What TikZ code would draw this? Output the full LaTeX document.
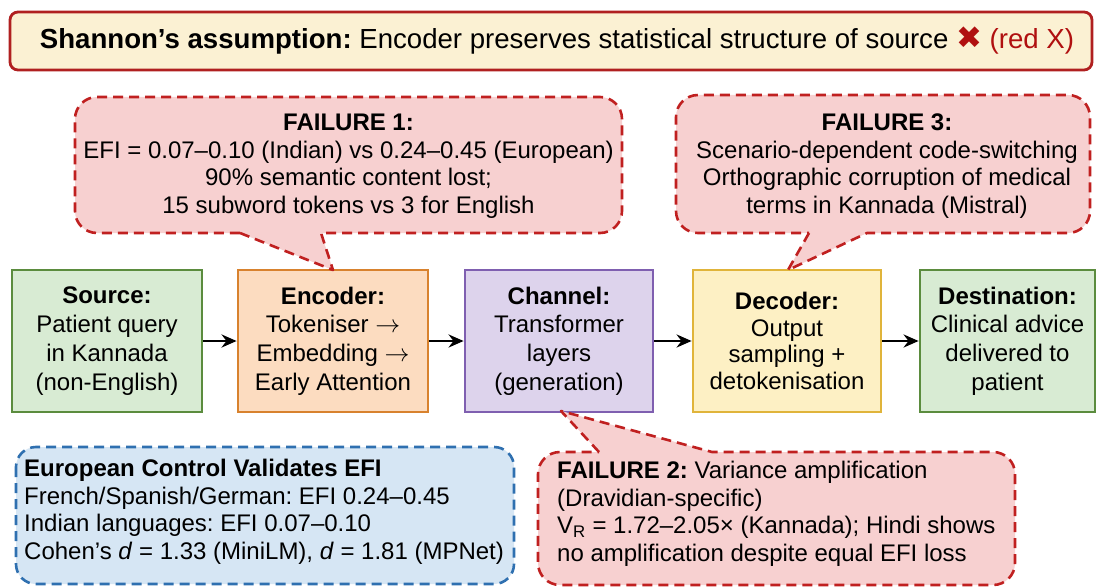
\documentclass[tikz,border=0pt]{standalone}
\usepackage{fontspec}
\setmainfont{Liberation Sans}
\newfontfamily\symfont{DejaVu Sans}
\usetikzlibrary{arrows.meta}
\frenchspacing
\definecolor{bannerfill}{HTML}{FBF1D3}
\definecolor{bannerline}{HTML}{B02020}
\definecolor{calfill}{HTML}{F7D0D0}
\definecolor{calline}{HTML}{C02020}
\definecolor{eufill}{HTML}{D6E6F4}
\definecolor{euline}{HTML}{2F70B0}
\definecolor{grfill}{HTML}{D8EBD3}
\definecolor{grline}{HTML}{5B8C3E}
\definecolor{orfill}{HTML}{FCDCC0}
\definecolor{orline}{HTML}{D8822E}
\definecolor{pufill}{HTML}{DDD3EC}
\definecolor{puline}{HTML}{7F5FB0}
\definecolor{yefill}{HTML}{FDF0C4}
\definecolor{yeline}{HTML}{E0B43A}
\definecolor{xred}{HTML}{B01010}
\newcommand{\rarr}{\ensuremath{\rightarrow}}
\tikzset{
  txt/.style={font=\fontsize{24}{27.5}\selectfont, inner sep=0pt},
  stagebox/.style={draw, line width=2.8pt, minimum width=190pt, minimum height=142pt, inner sep=2pt, align=center, font=\fontsize{24}{28.8}\selectfont},
  callout/.style={draw=calline, fill=calfill, line width=2.6pt, dash pattern=on 10pt off 6pt, line join=round},
  flow/.style={-{Stealth[length=15pt,width=13pt]}, line width=2.6pt},
}
\begin{document}
\begin{tikzpicture}[x=1pt,y=-1pt]
\useasboundingbox (0,0) rectangle (1099,588);
\fill[white] (0,0) rectangle (1099,588);
% banner
\draw[fill=bannerfill, draw=bannerline, line width=2.8pt, rounded corners=8pt] (10,12) rectangle (1092,70);
\node[txt, font=\fontsize{27.6}{30}\selectfont] (banner) at (557,41) {\textbf{Shannon’s assumption:} Encoder preserves statistical structure of source {\symfont\color{xred}\bfseries\fontsize{31}{31}\selectfont ✖} \textcolor{xred}{(red X)}};
% stage boxes
\node[stagebox, draw=grline, fill=grfill] (src) at (107,341) {\textbf{Source:}\\Patient query\\in Kannada\\(non-English)};
\node[stagebox, draw=orline, fill=orfill] (enc) at (333,341) {\textbf{Encoder:}\\Tokeniser \rarr\\Embedding \rarr\\Early Attention};
\node[stagebox, draw=puline, fill=pufill, minimum width=188pt] (chn) at (559,341) {\textbf{Channel:}\\Transformer\\layers\\(generation)};
\node[stagebox, draw=yeline, fill=yefill, minimum width=188pt, font=\fontsize{24}{26.5}\selectfont] (dec) at (787,341) {\textbf{Decoder:}\\Output\\sampling +\\detokenisation};
\node[stagebox, draw=grline, fill=grfill, minimum width=175pt] (dst) at (1007.5,341) {\textbf{Destination:}\\Clinical advice\\delivered to\\patient};
\draw[flow] (src) -- (enc);
\draw[flow] (enc) -- (chn);
\draw[flow] (chn) -- (dec);
\draw[flow] (dec) -- (dst);
% failure 1
\coordinate (t1) at (333,270);
\draw[callout] (240,233) -- (t1) -- (321,233) [rounded corners=22pt] -- (622,233) -- (622,97) -- (75,97) -- (75,233) -- (240,233);
\node[txt, align=center] (f1) at (348.5,166) {\textbf{FAILURE 1:}\\EFI = 0.07–0.10 (Indian) vs 0.24–0.45 (European)\\90\% semantic content lost;\\15 subword tokens vs 3 for English};
% failure 3
\coordinate (t3) at (788,270);
\draw[callout] (809,233) -- (t3) -- (867,233) [rounded corners=22pt] -- (1090,233) -- (1090,95) -- (676,95) -- (676,233) -- (809,233);
\node[txt, align=center] (f3) at (887,166) {\textbf{FAILURE 3:}\\Scenario-dependent code-switching\\Orthographic corruption of medical\\terms in Kannada (Mistral)};
% failure 2
\coordinate (t2) at (561,411);
\draw[callout] (599,452) -- (t2) -- (712,452) [rounded corners=22pt] -- (1015,452) -- (1015,585) -- (538,585) -- (538,452) -- (599,452);
\node[txt, align=left, anchor=west] (f2) at (557,514) {\textbf{FAILURE 2:} Variance amplification\\(Dravidian-specific)\\V\textsubscript{R} = 1.72–2.05× (Kannada); Hindi shows\\no amplification despite equal EFI loss};
% european
\draw[draw=euline, fill=eufill, line width=2.6pt, dash pattern=on 10pt off 6pt, rounded corners=20pt] (16,447) rectangle (514,584);
\node[txt, align=left, anchor=west] (eu) at (24,512) {\textbf{European Control Validates EFI}\\French/Spanish/German: EFI 0.24–0.45\\Indian languages: EFI 0.07–0.10\\Cohen’s \textit{d} = 1.33 (MiniLM), \textit{d} = 1.81 (MPNet)};
\end{tikzpicture}
\end{document}
